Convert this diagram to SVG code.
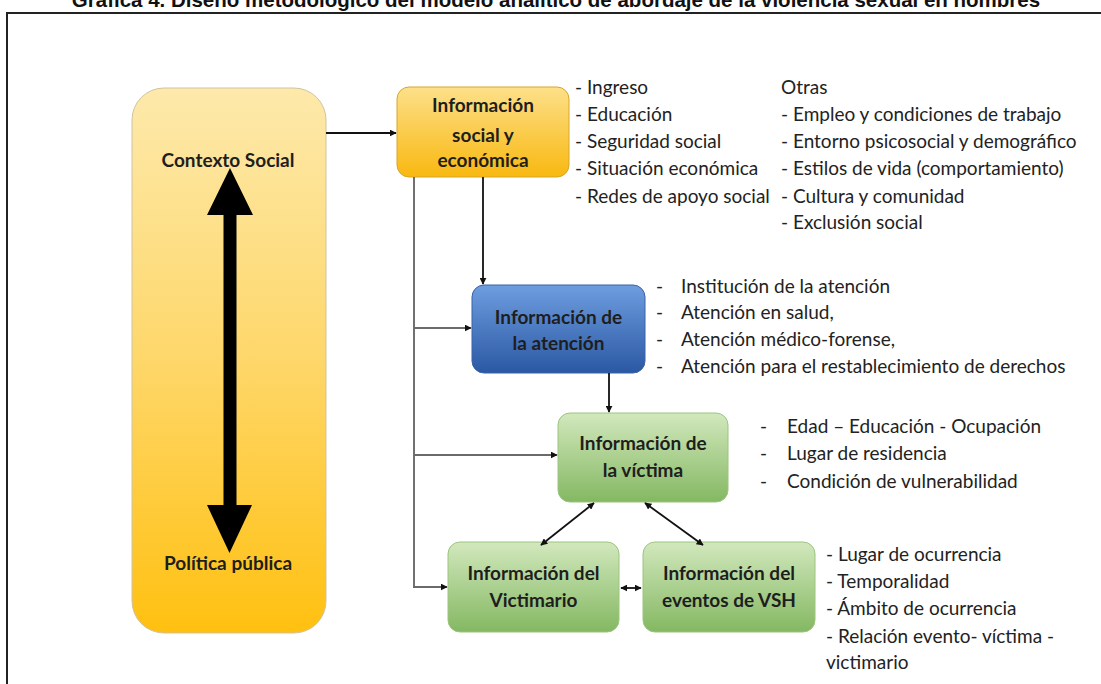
<svg xmlns="http://www.w3.org/2000/svg" width="1101" height="684" viewBox="0 0 1101 684">
<style>
.title{font-family:"Liberation Sans",Arial,sans-serif;font-weight:bold;font-size:20.5px;fill:#111}
.lbl{font-family:Lato,"Open Sans",sans-serif;font-weight:bold;font-size:19px;fill:#1e1e1e;text-anchor:middle}
.lst{font-family:Lato,"Open Sans",sans-serif;font-size:19px;fill:#222}
.ln{stroke:#111;stroke-width:1.8;fill:none}
.gl{stroke:#6a6a6a;stroke-width:1.9;fill:none}
</style>
<defs>
<linearGradient id="gBig" x1="0" y1="0" x2="0" y2="1">
<stop offset="0" stop-color="#fde9ab"/><stop offset="0.5" stop-color="#fed76a"/><stop offset="1" stop-color="#ffc010"/>
</linearGradient>
<linearGradient id="gGold" x1="0" y1="0" x2="0" y2="1">
<stop offset="0" stop-color="#fde08a"/><stop offset="1" stop-color="#f8b810"/>
</linearGradient>
<linearGradient id="gBlue" x1="0" y1="0" x2="0" y2="1">
<stop offset="0" stop-color="#6e9de0"/><stop offset="1" stop-color="#2b58a3"/>
</linearGradient>
<linearGradient id="gGreen" x1="0" y1="0" x2="0" y2="1">
<stop offset="0" stop-color="#d2e8bd"/><stop offset="1" stop-color="#84b862"/>
</linearGradient>
<marker id="ah" viewBox="0 0 10 10" refX="9" refY="5" markerWidth="7" markerHeight="7" markerUnits="userSpaceOnUse" orient="auto-start-reverse">
<path d="M0,0 L10,5 L0,10 Z" fill="#111"/>
</marker>
</defs>
<rect width="1101" height="684" fill="#fff"/>
<text class="title" x="556" y="7" text-anchor="middle">Gráfica 4. Diseño metodológico del modelo analítico de abordaje de la violencia sexual en hombres</text>
<rect x="7" y="13" width="1200" height="800" fill="none" stroke="#222" stroke-width="2"/>

<g id="contexto">
<rect x="132" y="88" width="194" height="545" rx="32" fill="url(#gBig)" stroke="#cfc3a0" stroke-width="1"/>
<path d="M230,168 L253,215 L236.5,215 L236.5,505 L252,505 L229.5,553 L207,505 L223.5,505 L223.5,215 L207,215 Z" fill="#000"/>
<text class="lbl" x="228" y="167">Contexto Social</text>
<text class="lbl" x="228" y="570">Política pública</text>
</g>

<g id="social">
<rect x="397" y="87" width="172" height="90" rx="12" fill="url(#gGold)" stroke="#d9a62a" stroke-width="1"/>
<text class="lbl" x="483" y="112">Información</text>
<text class="lbl" x="483" y="142">social y</text>
<text class="lbl" x="483" y="167">económica</text>
</g>

<g id="atencion">
<rect x="472" y="285" width="173" height="88" rx="12" fill="url(#gBlue)" stroke="#3b62a6" stroke-width="1"/>
<text class="lbl" x="558.5" y="324" fill="#101830">Información de</text>
<text class="lbl" x="558.5" y="350">la atención</text>
</g>

<g id="victima">
<rect x="558" y="413" width="170" height="89" rx="12" fill="url(#gGreen)" stroke="#9cc47e" stroke-width="1"/>
<text class="lbl" x="643" y="450">Información de</text>
<text class="lbl" x="643" y="477">la víctima</text>
</g>

<g id="victimario">
<rect x="448" y="542" width="171" height="90" rx="12" fill="url(#gGreen)" stroke="#9cc47e" stroke-width="1"/>
<text class="lbl" x="533.5" y="580">Información del</text>
<text class="lbl" x="533.5" y="607">Victimario</text>
</g>

<g id="eventos">
<rect x="643" y="542" width="172" height="90" rx="12" fill="url(#gGreen)" stroke="#9cc47e" stroke-width="1"/>
<text class="lbl" x="729" y="580">Información del</text>
<text class="lbl" x="729" y="607">eventos de VSH</text>
</g>

<g id="listas">
<text class="lst" x="575" y="94">- Ingreso</text>
<text class="lst" x="575" y="121">- Educación</text>
<text class="lst" x="575" y="148">- Seguridad social</text>
<text class="lst" x="575" y="175">- Situación económica</text>
<text class="lst" x="575" y="203">- Redes de apoyo social</text>
<text class="lst" x="781" y="94">Otras</text>
<text class="lst" x="781" y="121">- Empleo y condiciones de trabajo</text>
<text class="lst" x="781" y="148">- Entorno psicosocial y demográfico</text>
<text class="lst" x="781" y="175">- Estilos de vida (comportamiento)</text>
<text class="lst" x="781" y="203">- Cultura y comunidad</text>
<text class="lst" x="781" y="229">- Exclusión social</text>
<text class="lst" x="656" y="293">-</text><text class="lst" x="681" y="293">Institución de la atención</text>
<text class="lst" x="656" y="319">-</text><text class="lst" x="681" y="319">Atención en salud,</text>
<text class="lst" x="656" y="346">-</text><text class="lst" x="681" y="346">Atención médico-forense,</text>
<text class="lst" x="656" y="373">-</text><text class="lst" x="681" y="373">Atención para el restablecimiento de derechos</text>
<text class="lst" x="760" y="433">-</text><text class="lst" x="787" y="433">Edad – Educación - Ocupación</text>
<text class="lst" x="760" y="460">-</text><text class="lst" x="787" y="460">Lugar de residencia</text>
<text class="lst" x="760" y="488">-</text><text class="lst" x="787" y="488">Condición de vulnerabilidad</text>
<text class="lst" x="826" y="561">- Lugar de ocurrencia</text>
<text class="lst" x="826" y="588">- Temporalidad</text>
<text class="lst" x="826" y="615">- Ámbito de ocurrencia</text>
<text class="lst" x="826" y="643">- Relación evento- víctima -</text>
<text class="lst" x="826" y="669">victimario</text>
</g>

<g id="conectores">
<line class="ln" x1="326" y1="133" x2="396" y2="133" marker-end="url(#ah)"/>
<line class="ln" x1="483" y1="177" x2="483" y2="284" marker-end="url(#ah)"/>
<path class="gl" d="M414,177 V587"/>
<line class="gl" x1="414" y1="328" x2="471" y2="328" marker-end="url(#ah)"/>
<line class="gl" x1="414" y1="455" x2="557" y2="455" marker-end="url(#ah)"/>
<line class="gl" x1="413" y1="587" x2="447" y2="587" marker-end="url(#ah)"/>
<line class="ln" x1="609" y1="373" x2="609" y2="412" marker-end="url(#ah)"/>
<line class="ln" x1="594" y1="503" x2="541" y2="545" marker-start="url(#ah)" marker-end="url(#ah)"/>
<line class="ln" x1="645" y1="503" x2="703" y2="545" marker-start="url(#ah)" marker-end="url(#ah)"/>
<line class="ln" x1="621" y1="588" x2="641" y2="588" marker-start="url(#ah)" marker-end="url(#ah)"/>
</g>
</svg>
